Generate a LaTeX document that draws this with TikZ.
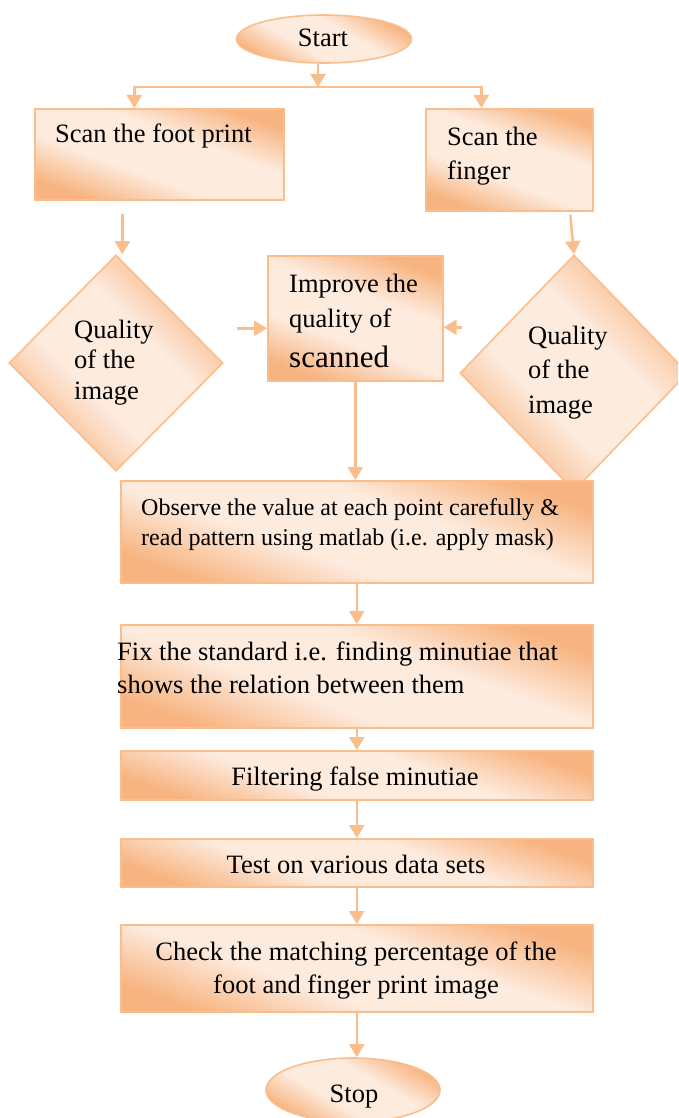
\documentclass[tikz,border=0pt]{standalone}
\usepackage{fontspec}
\setmainfont{Liberation Serif}
\usetikzlibrary{shapes.geometric,arrows.meta}
\definecolor{peachline}{RGB}{249,190,140}
\definecolor{peachdark}{RGB}{247,180,128}
\definecolor{peachlight}{RGB}{253,235,222}
\pgfdeclareverticalshading{peachfade}{100bp}{color(0bp)=(peachdark); color(25bp)=(peachdark); color(41bp)=(peachlight); color(59bp)=(peachlight); color(75bp)=(peachdark); color(100bp)=(peachdark)}
\tikzset{
  flowbox/.style={draw=peachline, line width=1.6pt, shading=peachfade, shading angle=-20, inner sep=0pt, anchor=north west},
  decide/.style={flowbox, diamond, aspect=1, anchor=center, shading angle=-45},
  term/.style={flowbox, ellipse, anchor=center, shading angle=-30},
  txt/.style={inner sep=0pt, align=left, font=\fontsize{26.5}{33}\selectfont},
  conn/.style={draw=peachline, line width=2.5pt, -{Triangle[width=15pt,length=13pt]}},
}
\begin{document}
\begin{tikzpicture}[x=1pt,y=-1pt]
\useasboundingbox (0,0) rectangle (678,1118);
\clip (0,0) rectangle (678,1118);

% start and the two scans
\node[term, minimum width=175pt, minimum height=48pt] (start) at (324,39) {};
\node[txt, anchor=base] (startT) at (323,47) {Start};

\node[flowbox, minimum width=249pt, minimum height=91pt] (foot) at (34,108) {};
\node[txt, anchor=base west] (footT) at (55,143) {Scan the foot print};

\node[flowbox, minimum width=167pt, minimum height=102pt] (finger) at (425,108) {};
\node[txt, anchor=base west, font=\fontsize{26.5}{35}\selectfont] (fingerT) at (447,180) {Scan the\\finger};

% quality checks
\node[decide, minimum width=214pt, minimum height=216pt] (qleft) at (116,363) {};
\node[txt, anchor=base west, font=\fontsize{26.5}{30.5}\selectfont] (qleftT) at (74,399) {Quality\\of the\\image};

\node[decide, minimum width=228pt, minimum height=236pt] (qright) at (574,373) {};
\node[txt, anchor=base west, font=\fontsize{26.5}{34.5}\selectfont] (qrightT) at (528,413) {Quality\\of the\\image};

\node[flowbox, minimum width=175pt, minimum height=125pt] (improve) at (267,255) {};
\node[txt, anchor=base west, font=\fontsize{26.5}{35}\selectfont] (improveT) at (289,367) {Improve the\\quality of\\[5pt]{\fontsize{31}{35}\selectfont scanned}};

% processing steps
\node[flowbox, minimum width=472pt, minimum height=102pt] (observe) at (120,480) {};
\node[txt, anchor=base west, font=\fontsize{24}{30}\selectfont] (observeT) at (141,545) {Observe the value at each point carefully \&\\read pattern using matlab (i.e. apply mask)};

\node[flowbox, minimum width=472pt, minimum height=103pt] (fix) at (120,624) {};
\node[txt, anchor=base west] (fixT) at (117,693) {Fix the standard i.e. finding minutiae that\\shows the relation between them};

\node[flowbox, minimum width=472pt, minimum height=49pt] (filter) at (120,750) {};
\node[txt, anchor=base] (filterT) at (355,785) {Filtering false minutiae};

\node[flowbox, minimum width=472pt, minimum height=48pt] (test) at (120,838) {};
\node[txt, anchor=base] (testT) at (356,873) {Test on various data sets};

\node[flowbox, minimum width=472pt, minimum height=87pt] (check) at (120,924) {};
\node[txt, anchor=base, align=center] (checkT) at (356,993) {Check the matching percentage of the\\foot and finger print image};

\node[term, minimum width=174pt, minimum height=64pt] (stop) at (353,1090) {};
\node[txt, anchor=base] (stopT) at (354,1102) {Stop};

% connectors
\coordinate (split) at (318,87);
\draw[conn] (start.south -| split) -- (split);
\draw[conn] (split) -| ([xshift=-25pt]foot.north);
\draw[conn] (split) -| ([xshift=-28pt]finger.north);
\draw[conn] ([xshift=-37pt,yshift=-13pt]foot.south) coordinate (footOut) -- (footOut |- qleft.north);
\draw[conn] ([xshift=61pt,yshift=-3pt]finger.south) -- (qright.north);
\draw[conn] ([xshift=-30pt,yshift=-10pt]improve.west) -- ([yshift=-10pt]improve.west);
\draw[conn] ([xshift=18pt,yshift=-9pt]improve.east) -- ([yshift=-9pt]improve.east);
\draw[conn] (improve.south) -- (improve.south |- observe.north);
\draw[conn] (observe.south) -- (fix.north);
\draw[conn] (fix.south) -- (filter.north);
\draw[conn] (filter.south) -- (test.north);
\draw[conn] (test.south) -- (check.north);
\draw[conn] (check.south) -- (check.south |- stop.north);
\end{tikzpicture}
\end{document}
